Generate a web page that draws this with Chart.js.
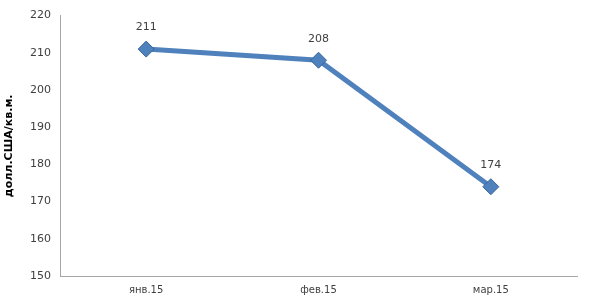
<!DOCTYPE html>
<html>
<head>
<meta charset="utf-8">
<script src="https://cdn.jsdelivr.net/npm/chart.js@4/dist/chart.umd.min.js"></script>
<style>
    html, body { margin: 0; padding: 0; background: #fff; }
    #wrap { width: 590px; height: 306px; }
</style>
</head>
<body>
<div id="wrap"><canvas id="chart"></canvas></div>
<script>
const months = ['янв.15', 'фев.15', 'мар.15'];
const prices = [211, 208, 174];
const yTicks = [150, 160, 170, 180, 190, 200, 210, 220];

// подписи значений над точками
const valueLabels = {
    id: 'valueLabels',
    afterDatasetsDraw(chart) {
        const ctx = chart.ctx;
        const meta = chart.getDatasetMeta(0);
        ctx.save();
        ctx.font = '11px "DejaVu Sans", sans-serif';
        ctx.fillStyle = '#404040';
        ctx.textAlign = 'center';
        ctx.textBaseline = 'bottom';
        meta.data.forEach((pt, i) => {
            ctx.fillText(prices[i], pt.x, pt.y - 16);
        });
        ctx.restore();
    }
};

new Chart(document.getElementById('chart').getContext('2d'), {
    type: 'line',
    data: {
        labels: months,
        datasets: [{
            data: prices,
            borderColor: '#4f81bd',
            borderWidth: 5,
            pointStyle: 'rectRot',
            pointRadius: 8,
            pointHoverRadius: 8,
            pointBackgroundColor: '#4f81bd',
            pointBorderColor: '#3a659a',
            pointBorderWidth: 1,
            tension: 0
        }]
    },
    options: {
        responsive: true,
        maintainAspectRatio: false,
        animation: false,
        layout: {
            padding: { top: 5, right: 13, bottom: 2, left: 3 }
        },
        plugins: {
            legend: { display: false },
            tooltip: { enabled: false }
        },
        scales: {
            x: {
                offset: true,
                grid: { display: false, drawTicks: false },
                border: { color: '#a6a6a6', width: 1 },
                ticks: {
                    color: '#404040',
                    font: { family: 'DejaVu Sans', size: 10 },
                    padding: 8
                }
            },
            y: {
                min: 150,
                max: 220,
                afterBuildTicks(axis) {
                    axis.ticks = yTicks.map(v => ({ value: v }));
                },
                afterFit(axis) {
                    axis.width = 57;
                },
                grid: { display: false, drawTicks: false },
                border: { color: '#a6a6a6', width: 1 },
                ticks: {
                    color: '#404040',
                    font: { family: 'DejaVu Sans', size: 11 },
                    padding: 9
                },
                title: {
                    display: true,
                    text: 'долл.США/кв.м.',
                    color: '#000',
                    font: { family: 'DejaVu Sans', size: 11, weight: 'bold' },
                    padding: 0
                }
            }
        }
    },
    plugins: [valueLabels]
});
</script>
</body>
</html>
